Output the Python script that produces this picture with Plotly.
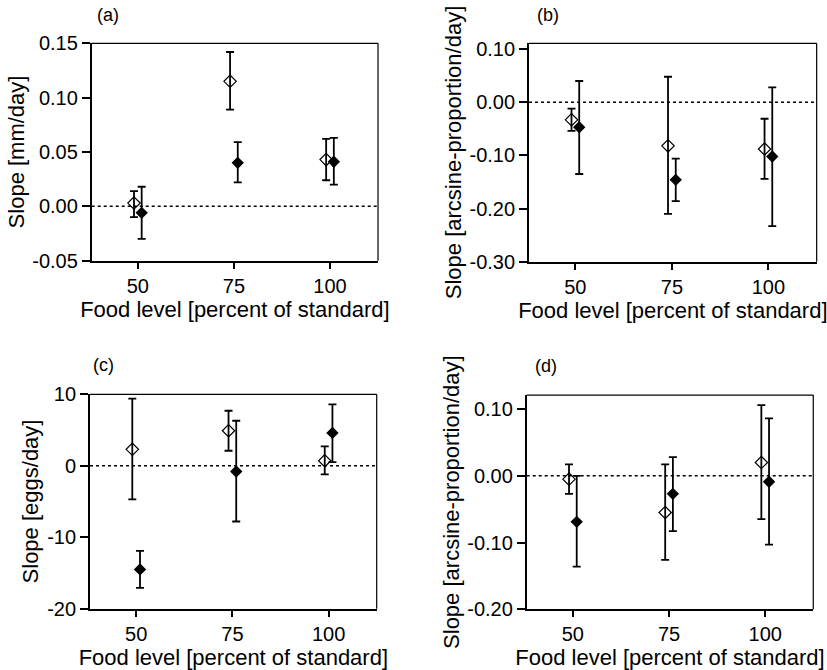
import plotly.graph_objects as go

# ---------------- data ----------------
FOOD_LEVELS = [50, 75, 100]
XS_OPEN = [49, 74, 99]      # dodged positions (open diamonds)
XS_FILLED = [51, 76, 101]   # dodged positions (filled diamonds)

# panel (a) Slope [mm/day]
A_OPEN = [0.003, 0.115, 0.043]
A_OPEN_HI = [0.014, 0.142, 0.062]
A_OPEN_LO = [-0.010, 0.089, 0.024]
A_FILL = [-0.006, 0.040, 0.041]
A_FILL_HI = [0.018, 0.059, 0.063]
A_FILL_LO = [-0.030, 0.022, 0.020]

# panel (b) Slope [arcsine-proportion/day]
B_OPEN = [-0.033, -0.082, -0.088]
B_OPEN_HI = [-0.012, 0.048, -0.031]
B_OPEN_LO = [-0.054, -0.210, -0.144]
B_FILL = [-0.047, -0.146, -0.102]
B_FILL_HI = [0.040, -0.106, 0.028]
B_FILL_LO = [-0.135, -0.186, -0.233]

# panel (c) Slope [eggs/day]
C_OPEN = [2.3, 4.9, 0.7]
C_OPEN_HI = [9.4, 7.7, 2.7]
C_OPEN_LO = [-4.7, 2.1, -1.2]
C_FILL = [-14.5, -0.8, 4.6]
C_FILL_HI = [-11.9, 6.3, 8.6]
C_FILL_LO = [-17.1, -7.8, 0.5]

# panel (d) Slope [arcsine-proportion/day]
D_OPEN = [-0.005, -0.055, 0.020]
D_OPEN_HI = [0.017, 0.017, 0.106]
D_OPEN_LO = [-0.027, -0.126, -0.065]
D_FILL = [-0.069, -0.027, -0.009]
D_FILL_HI = [0.000, 0.028, 0.086]
D_FILL_LO = [-0.136, -0.083, -0.103]

X_TICKS = [50, 75, 100]
X_TICKTEXT = ["50", "75", "100"]
A_YTICKS = [-0.05, 0.0, 0.05, 0.10, 0.15]
A_YTEXT = ["-0.05", "0.00", "0.05", "0.10", "0.15"]
B_YTICKS = [-0.30, -0.20, -0.10, 0.0, 0.10]
B_YTEXT = ["-0.30", "-0.20", "-0.10", "0.00", "0.10"]
C_YTICKS = [-20, -10, 0, 10]
C_YTEXT = ["-20", "-10", "0", "10"]
D_YTICKS = [-0.20, -0.10, 0.0, 0.10]
D_YTEXT = ["-0.20", "-0.10", "0.00", "0.10"]

X_TITLE = "Food level [percent of standard]"
Y_TITLES = ["Slope [mm/day]", "Slope [arcsine-proportion/day]",
            "Slope [eggs/day]", "Slope [arcsine-proportion/day]"]
PANEL_LABELS = ["(a)", "(b)", "(c)", "(d)"]
ZERO = 0

# ---------------- figure ----------------
FONT = "Liberation Sans, Arial, Helvetica, sans-serif"
fig = go.Figure()

panels = [
    (A_OPEN, A_OPEN_HI, A_OPEN_LO, A_FILL, A_FILL_HI, A_FILL_LO, A_YTICKS, A_YTEXT, [-0.05, 0.15]),
    (B_OPEN, B_OPEN_HI, B_OPEN_LO, B_FILL, B_FILL_HI, B_FILL_LO, B_YTICKS, B_YTEXT, [-0.30, 0.111]),
    (C_OPEN, C_OPEN_HI, C_OPEN_LO, C_FILL, C_FILL_HI, C_FILL_LO, C_YTICKS, C_YTEXT, [-20, 10]),
    (D_OPEN, D_OPEN_HI, D_OPEN_LO, D_FILL, D_FILL_HI, D_FILL_LO, D_YTICKS, D_YTEXT, [-0.20, 0.121]),
]

domains = [
    ([0.1109, 0.4571], [0.6109, 0.9354]),
    ([0.6397, 0.9875], [0.6094, 0.9354]),
    ([0.1088, 0.4555], [0.0915, 0.4115]),
    ([0.6369, 0.9834], [0.0906, 0.4104]),
]
label_pos = [(0.1306, 0.978), (0.6623, 0.978), (0.1250, 0.455), (0.6602, 0.453)]


def err(vals, hi, lo):
    return dict(type="data", symmetric=False,
                array=[h - v for v, h in zip(vals, hi)],
                arrayminus=[v - l for v, l in zip(vals, lo)],
                color="black", thickness=1.8, width=4)


for i, (po, poh, pol, pf, pfh, pfl, yt, ytt, yr) in enumerate(panels):
    n = "" if i == 0 else str(i + 1)
    xa, ya = "x" + n, "y" + n
    fig.add_trace(go.Scatter(
        x=XS_OPEN, y=po, mode="markers", xaxis=xa, yaxis=ya, showlegend=False,
        marker=dict(symbol="diamond-open", size=9.5, color="black", line=dict(width=1.2, color="black")),
        error_y=err(po, poh, pol)))
    fig.add_trace(go.Scatter(
        x=XS_FILLED, y=pf, mode="markers", xaxis=xa, yaxis=ya, showlegend=False,
        marker=dict(symbol="diamond", size=9.5, color="black"),
        error_y=err(pf, pfh, pfl)))

    dx, dy = domains[i]
    axis_common = dict(showline=True, linecolor="black", linewidth=1.8, mirror=False,
                       ticks="outside", tickcolor="black", tickwidth=1.5,
                       showgrid=False, zeroline=False, automargin=False,
                       tickfont=dict(family=FONT, size=20, color="black"))
    fig.update_layout(**{
        "xaxis" + n: dict(domain=dx, anchor=ya, range=[38, 112.5],
                          tickvals=X_TICKS, ticktext=X_TICKTEXT, ticklen=6,
                          title=dict(text=X_TITLE, standoff=0,
                                     font=dict(family=FONT, size=22, color="black")),
                          **axis_common),
        "yaxis" + n: dict(domain=dy, anchor=xa, range=yr,
                          tickvals=yt, ticktext=ytt, ticklen=8,
                          title=dict(text=Y_TITLES[i], standoff=2,
                                     font=dict(family=FONT, size=22, color="black")),
                          **axis_common),
    })
    # top and right frame lines (thinner)
    fig.add_shape(type="line", xref=xa + " domain", yref=ya + " domain",
                  x0=0, x1=1, y0=1, y1=1, line=dict(color="black", width=1.2))
    fig.add_shape(type="line", xref=xa + " domain", yref=ya + " domain",
                  x0=1, x1=1, y0=0, y1=1, line=dict(color="black", width=1.2))
    # dotted zero reference line
    fig.add_shape(type="line", xref=xa + " domain", yref=ya,
                  x0=0, x1=1, y0=ZERO, y1=ZERO, line=dict(color="black", width=1.5, dash="dot"))
    lx, ly = label_pos[i]
    fig.add_annotation(text=PANEL_LABELS[i], xref="paper", yref="paper", x=lx, y=ly,
                       showarrow=False, xanchor="center", yanchor="middle",
                       font=dict(family=FONT, size=18, color="black"))

fig.update_layout(width=827, height=670, margin=dict(l=0, r=0, t=0, b=0),
                  paper_bgcolor="white", plot_bgcolor="white",
                  font=dict(family=FONT, color="black"))

fig.write_html("out.html", config={"displayModeBar": False},
               post_script="document.body.style.margin='0px';document.body.style.overflow='hidden';")
